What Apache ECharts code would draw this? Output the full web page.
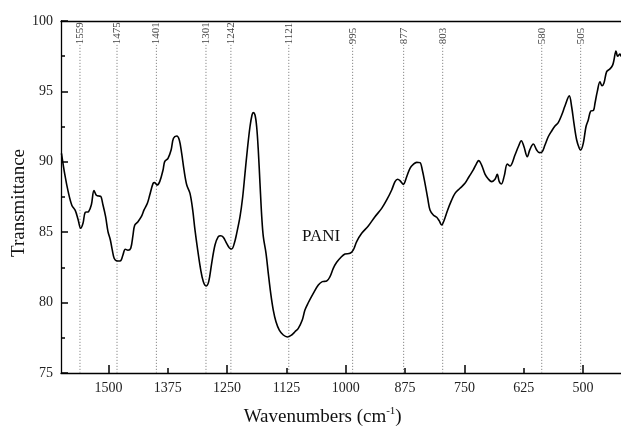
<!DOCTYPE html>
<html>
<head>
<meta charset="utf-8">
<script src="https://cdn.jsdelivr.net/npm/echarts@6/dist/echarts.min.js"></script>
<style>html,body{margin:0;padding:0;background:#fff}#c{width:621px;height:429px}</style>
</head>
<body>
<div id="c"></div>
<script>
// Spectrum (wavenumber cm-1, transmittance)
const wavenumbers = [1599,1592,1585,1577,1570,1564,1558.5,1553.5,1549,1542,1536,1530.5,1525.5,1520.5,1516.5,1511.5,1506,1501,1496,1492,1488,1483.5,1476,1473,1469.5,1464.5,1459,1453,1448.3,1444.7,1437.8,1430.8,1425,1418,1413,1406,1402.6,1397.7,1392,1385,1381.5,1374.5,1368,1363,1356,1350.7,1345.7,1340.8,1335,1328.2,1322.5,1317.7,1312,1305.6,1300.2,1294.5,1288.8,1282.5,1275.5,1268.6,1263.5,1258,1251,1245.4,1240.3,1234.8,1229.8,1222.8,1217.1,1212.3,1207.4,1201.8,1197.5,1194.8,1191.2,1187.7,1184.3,1180.7,1177,1173.7,1168,1163.2,1158.1,1152.7,1147,1140,1131.6,1123,1114,1107,1100,1091.6,1086,1079,1068.4,1057.8,1049.4,1040.2,1033.2,1026.3,1019.1,1010,1001.6,991,984,977,966.4,952.5,938.4,924.3,913.7,903.2,896.2,890.6,885.7,878.8,871.6,864.6,857.7,850.5,843.6,838.7,833,827.3,822.5,815.5,808.3,802.9,797.8,792.4,785.2,778.3,769.8,759.3,748.8,740.3,731.3,724.2,720,713.7,706.6,699.6,692.5,685.5,680.7,676.5,672,666,659.6,654,643.4,636.4,630,624.4,617.5,611.8,604.8,597.7,592.2,587.2,580.2,573.3,566.1,559.1,552.2,545,538.1,529,524,519.1,513.4,507.9,505,499.5,493.8,489,483.9,478,474.8,470,464.3,460,455.9,450.2,443.2,437.6,434.8,430.6,427,422.2,420];
const transmittance = [90.6,89.1,87.9,86.9,86.55,85.9,85.28,85.65,86.4,86.46,86.95,87.95,87.62,87.57,87.55,86.93,86.1,85.04,84.45,83.74,83.15,82.98,82.95,83.03,83.38,83.79,83.72,83.86,84.8,85.5,85.75,86.1,86.58,87.05,87.64,88.47,88.52,88.35,88.59,89.42,90.01,90.25,90.84,91.67,91.83,91.55,90.6,89.42,88.35,87.76,86.58,85.16,83.74,82.32,81.49,81.18,81.49,82.79,84.09,84.68,84.75,84.64,84.21,83.9,83.81,84.21,84.92,86.1,87.52,89.18,90.84,92.49,93.32,93.49,93.32,92.49,90.84,88.47,86.1,84.68,83.5,82.08,80.66,79.47,78.64,78.05,77.7,77.56,77.7,77.93,78.17,78.76,79.47,79.99,80.66,81.25,81.49,81.53,81.84,82.43,82.86,83.22,83.45,83.5,83.74,84.33,84.92,85.44,86.1,86.69,87.29,88.0,88.59,88.76,88.66,88.4,88.94,89.54,89.82,89.96,89.94,89.42,88.47,87.41,86.58,86.22,86.06,85.8,85.51,85.87,86.58,87.17,87.76,88.12,88.47,88.94,89.42,89.89,90.08,89.77,89.13,88.78,88.59,88.76,89.11,88.59,88.42,89.0,89.84,89.7,90.48,91.07,91.5,91.07,90.36,90.88,91.26,90.84,90.65,90.67,91.19,91.78,92.19,92.54,92.78,93.32,93.96,94.68,93.91,92.73,91.55,90.96,90.84,91.31,92.49,92.97,93.6,93.65,94.16,94.98,95.69,95.4,95.6,96.4,96.6,96.87,97.23,97.87,97.5,97.65,97.47];

// Peak markers: where the dotted lines sit, and their printed labels
const peakLines  = [1560, 1482, 1399, 1294.5, 1242, 1120, 985.5, 878, 795.7, 587, 505];
const peakLabels = ['1559','1475','1401','1301','1242','1121','995','877','803','580','505'];

// Axis ticks
const xLabelTicks = [1500, 1375, 1250, 1125, 1000, 875, 750, 625, 500];
const xMajorTicks = [1500, 1250, 1000, 750, 500];
const xMinorTicks = [1375, 1125, 875, 625];

const sampleName = 'PANI';
const serif = '"Liberation Serif","Times New Roman",serif';

const chart = echarts.init(document.getElementById('c'), null, {renderer: 'canvas'});
const xBase = {type: 'value', min: 420, max: 1600, inverse: true, splitLine: {show: false}};

chart.setOption({
  animation: false,
  backgroundColor: '#fff',
  grid: {left: 61, right: 0, top: 21, bottom: 56, containLabel: false},
  xAxis: [
    Object.assign({}, xBase, {
      position: 'bottom',
      axisLine: {show: true, onZero: false, lineStyle: {color: '#000', width: 1.3}},
      axisTick: {show: true, inside: true, length: 8, customValues: xMajorTicks, lineStyle: {color: '#000', width: 1.5}},
      axisLabel: {show: true, customValues: xLabelTicks, margin: 8, fontFamily: serif, fontSize: 14, color: '#222',
                  formatter: v => String(v)}
    }),
    Object.assign({}, xBase, {
      position: 'top',
      axisLine: {show: true, onZero: false, lineStyle: {color: '#000', width: 1.3}},
      axisTick: {show: false},
      axisLabel: {show: false}
    }),
    Object.assign({}, xBase, {
      position: 'bottom',
      axisLine: {show: false, onZero: false},
      axisTick: {show: true, inside: true, length: 5, customValues: xMinorTicks, lineStyle: {color: '#000', width: 1.5}},
      axisLabel: {show: false}
    })
  ],
  yAxis: {
    type: 'value', min: 75, max: 100, interval: 5, position: 'left',
    splitLine: {show: false},
    axisLine: {show: true, onZero: false, lineStyle: {color: '#000', width: 1.3}},
    axisTick: {show: true, inside: true, length: 7, lineStyle: {color: '#000', width: 1.5}},
    minorTick: {show: true, splitNumber: 2, length: 4, lineStyle: {color: '#000', width: 1.5}},
    axisLabel: {margin: 8, fontFamily: serif, fontSize: 14, color: '#222', formatter: v => String(v)}
  },
  series: [
    {
      type: 'custom',
      xAxisIndex: 0,
      data: peakLines.map(v => [v, 75]),
      silent: true,
      z: 1,
      renderItem: function (params, api) {
        const x = api.value(0);
        const p0 = api.coord([x, 75]);
        const p1 = api.coord([x, 98.3]);
        const pl = api.coord([x, 98.35]);
        return {
          type: 'group',
          children: [
            {type: 'line', shape: {x1: p0[0], y1: p0[1], x2: p1[0], y2: p1[1]},
             style: {stroke: '#8a8a8a', lineWidth: 1, lineDash: [1.2, 1.8]}},
            {type: 'text', x: pl[0], y: pl[1], rotation: Math.PI / 2,
             style: {text: peakLabels[params.dataIndex], font: '11px ' + serif, fill: '#444',
                     align: 'left', verticalAlign: 'middle'}}
          ]
        };
      }
    },
    {
      type: 'line',
      xAxisIndex: 0,
      data: wavenumbers.map((w, i) => [w, transmittance[i]]),
      showSymbol: false,
      smooth: 0.35,
      z: 3,
      lineStyle: {color: '#000', width: 1.6}
    }
  ],
  graphic: [
    {type: 'text', left: 302, top: 228,
     style: {text: sampleName, font: '17px ' + serif, fill: '#111'}},
    {type: 'text', x: 19.5, y: 203, rotation: Math.PI / 2,
     style: {text: 'Transmittance', font: '19px ' + serif, fill: '#111', align: 'center', verticalAlign: 'middle'}},
    {type: 'text', x: 322.7, y: 417,
     style: {text: '{a|Wavenumbers (cm}{s|-1}{a|)}', align: 'center', verticalAlign: 'middle', fill: '#111',
             rich: {a: {font: '19px ' + serif, fill: '#111'},
                    s: {font: '11px ' + serif, fill: '#111', verticalAlign: 'top', padding: [0, 0, 11, 0]}}}}
  ]
});
</script>
</body>
</html>
